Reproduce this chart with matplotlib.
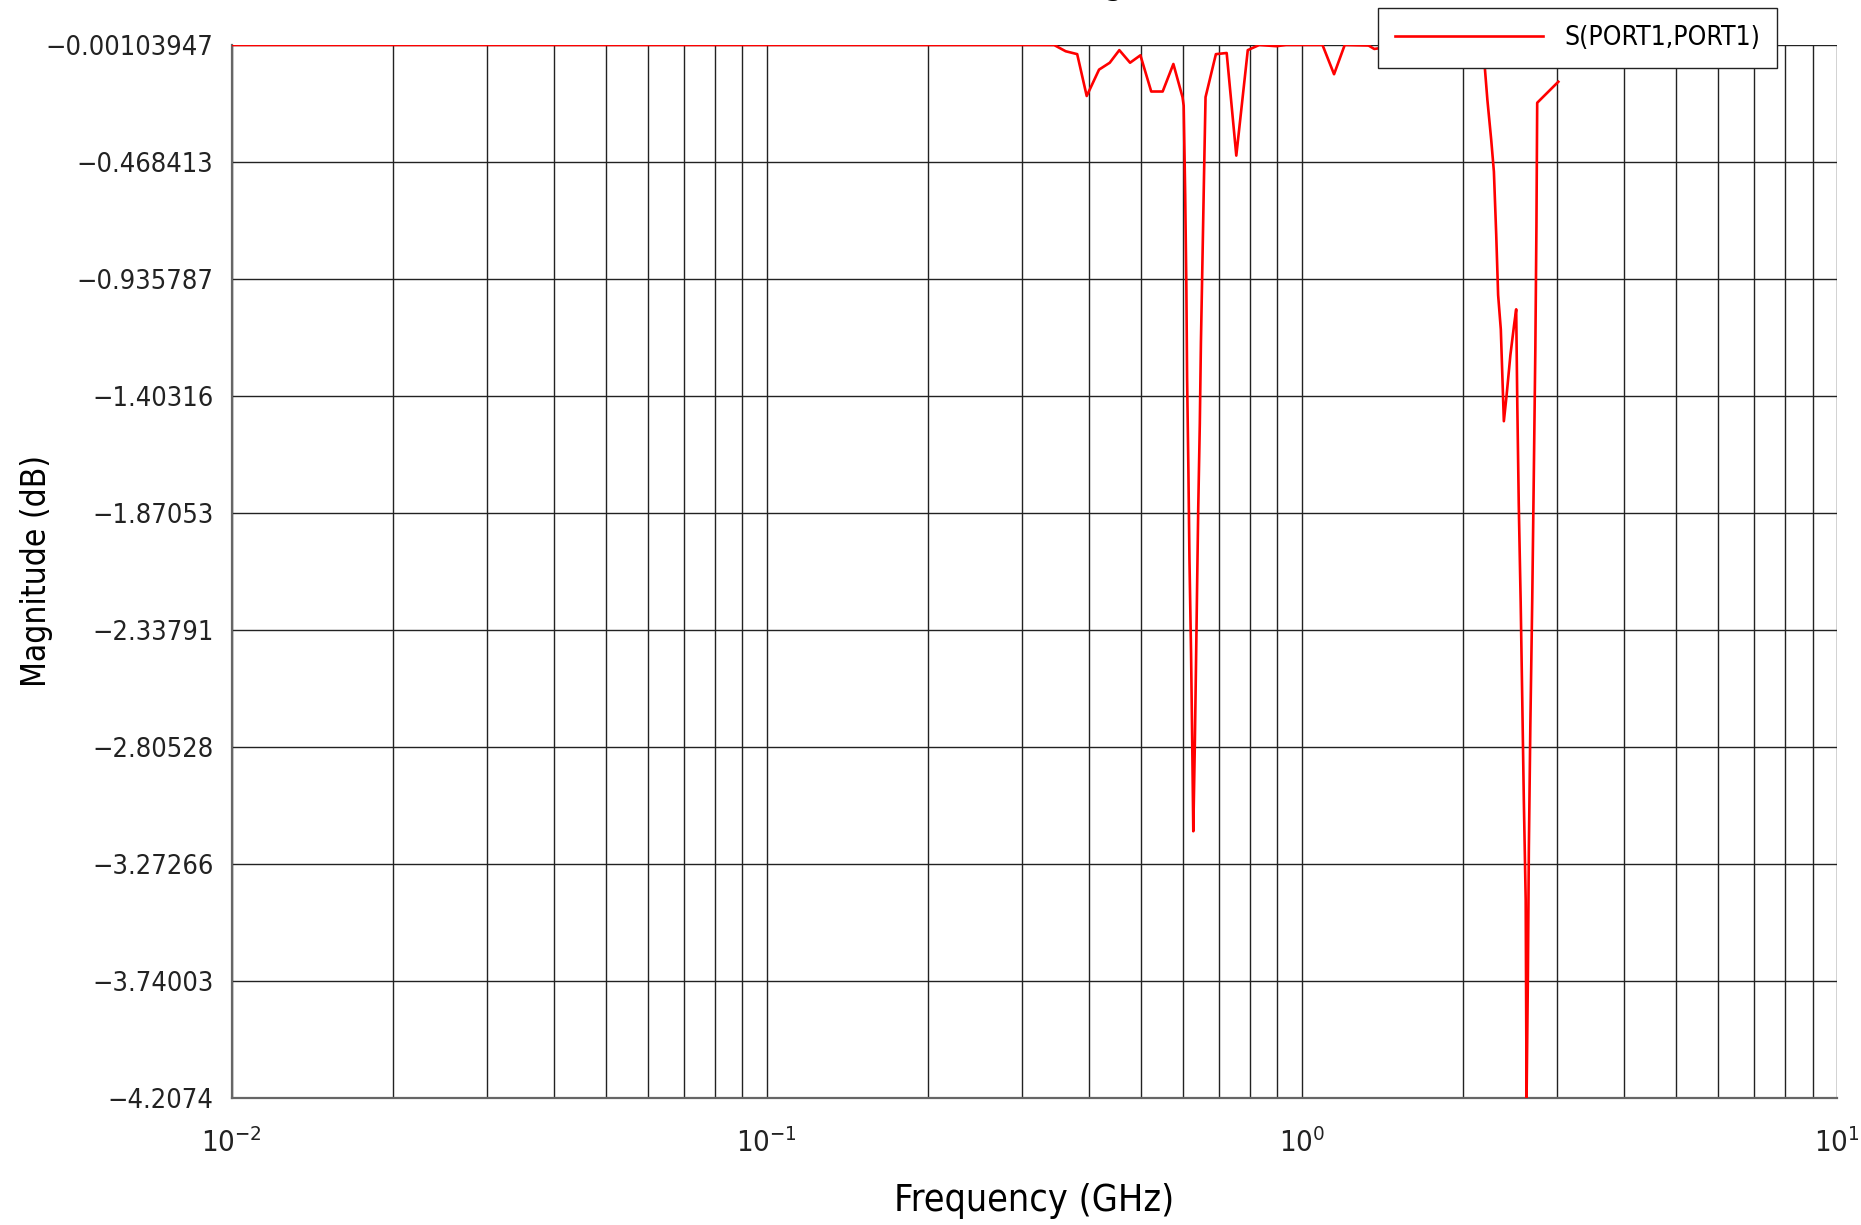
import matplotlib
matplotlib.use("Agg")
import matplotlib.pyplot as plt
from matplotlib.ticker import FixedLocator, NullFormatter, LogLocator

plt.rcParams['font.family'] = ['DejaVu Sans']
plt.rcParams['font.stretch'] = 'condensed'
plt.rcParams['mathtext.fontset'] = 'custom'
plt.rcParams['mathtext.rm'] = 'DejaVu Sans:stretch=condensed'
plt.rcParams['mathtext.it'] = 'DejaVu Sans:stretch=condensed'

# frequency sweep (GHz) and |S11| in dB
freq_ghz = [0.01, 0.05, 0.126, 0.2, 0.3148, 0.3445, 0.3620, 0.3804, 0.3963, 0.4179,
            0.4376, 0.4560, 0.4776, 0.4993, 0.5231, 0.5495, 0.5754, 0.5985, 0.6015, 0.6054,
            0.6084, 0.6104, 0.6138, 0.6166, 0.6209, 0.6239, 0.6269, 0.6310, 0.6341, 0.6372,
            0.6404, 0.6447, 0.6478, 0.6521, 0.6564, 0.6608, 0.6909, 0.7237, 0.7543, 0.7925,
            0.8326, 0.8606, 0.8970, 0.9344, 1.0930, 1.1487, 1.2027, 1.3324, 1.3658, 1.4113,
            1.533, 1.721, 1.899, 2.063, 2.132, 2.196, 2.222, 2.259, 2.285, 2.308,
            2.327, 2.354, 2.385, 2.413, 2.453, 2.494, 2.515, 2.527, 2.543, 2.564,
            2.582, 2.599, 2.620, 2.630, 2.645, 2.656, 2.673, 2.695, 2.713, 2.731,
            2.744, 2.753, 3.015]
mag_db = [-0.00104, -0.00104, -0.00104, -0.0012, -0.00104, -0.0013, -0.0262, -0.0377, -0.205, -0.0996,
          -0.072, -0.0217, -0.072, -0.0423, -0.187, -0.187, -0.077, -0.2095, -0.244, -0.599,
          -0.959, -1.332, -1.699, -2.054, -2.432, -2.776, -3.142, -2.798, -2.489, -2.168,
          -1.848, -1.515, -1.190, -0.862, -0.530, -0.2095, -0.0377, -0.0331, -0.443, -0.0217,
          -0.00104, -0.0033, -0.006, -0.00104, -0.00104, -0.118, -0.00104, -0.0033, -0.017, -0.0125,
          -0.005, -0.01, -0.02, -0.03, -0.045, -0.0835, -0.221, -0.381, -0.507, -0.759,
          -1.000, -1.137, -1.504, -1.402, -1.240, -1.115, -1.057, -1.435, -1.836, -2.226,
          -2.627, -3.016, -3.416, -4.2074, -3.716, -3.211, -2.719, -2.214, -1.722, -1.218,
          -0.725, -0.232, -0.148]

y_ticks = [-0.00103947, -0.468413, -0.935787, -1.40316, -1.87053,
           -2.33791, -2.80528, -3.27266, -3.74003, -4.2074]
y_tick_labels = ["\u22120.00103947", "\u22120.468413", "\u22120.935787", "\u22121.40316", "\u22121.87053",
                 "\u22122.33791", "\u22122.80528", "\u22123.27266", "\u22123.74003", "\u22124.2074"]
x_ticks = [0.01, 0.1, 1, 10]
x_tick_labels = [r"$10^{-2}$", r"$10^{-1}$", r"$10^{0}$", r"$10^{1}$"]

fig = plt.figure(figsize=(18.61, 12.25), dpi=100)
ax = fig.add_axes([0.1244, 0.1037, 0.8627, 0.8596])

ax.plot(freq_ghz, mag_db, color='#ff0000', lw=1.9, label='S(PORT1,PORT1)', zorder=3)

ax.set_xscale('log')
ax.set_xlim(0.01, 10)
ax.set_ylim(y_ticks[-1], y_ticks[0])

ax.xaxis.set_major_locator(FixedLocator(x_ticks))
ax.set_xticklabels(x_tick_labels)
ax.xaxis.set_minor_locator(LogLocator(base=10, subs=range(2, 10)))
ax.xaxis.set_minor_formatter(NullFormatter())
ax.set_yticks(y_ticks)
ax.set_yticklabels(y_tick_labels)

ax.tick_params(axis='both', which='both', length=0)
ax.tick_params(axis='y', labelsize=19.5, pad=13, colors='#222222')
ax.tick_params(axis='x', labelsize=21, pad=22, colors='#222222')

ax.grid(True, which='major', color='#222222', lw=1.0)
ax.grid(True, which='minor', axis='x', color='#222222', lw=1.0)

for s in ['top', 'right']:
    ax.spines[s].set_visible(False)
for s in ['left', 'bottom']:
    ax.spines[s].set_color('#666666')
    ax.spines[s].set_linewidth(1.6)

ax.set_xlabel('Frequency (GHz)', fontsize=27, labelpad=18)
ylab = ax.set_ylabel('Magnitude (dB)', fontsize=24)
ax.yaxis.set_label_coords(-0.1217, 0.5)
ylab.set_va('center')

# title sits mostly above the canvas, only a descender is visible
fig.text(0.555, 1.006, 'S-Parameter Magnitude', fontsize=27, ha='center', va='baseline')

leg = ax.legend(loc='upper right', bbox_to_anchor=(1777 / 1861, 1 - 8 / 1225),
                bbox_transform=fig.transFigure, borderaxespad=0, fontsize=19,
                handlelength=5.6, handletextpad=0.8, borderpad=0.65,
                fancybox=False, framealpha=1, edgecolor='#222222')
leg.get_frame().set_linewidth(1.0)

fig.savefig('out.png', dpi=100)
